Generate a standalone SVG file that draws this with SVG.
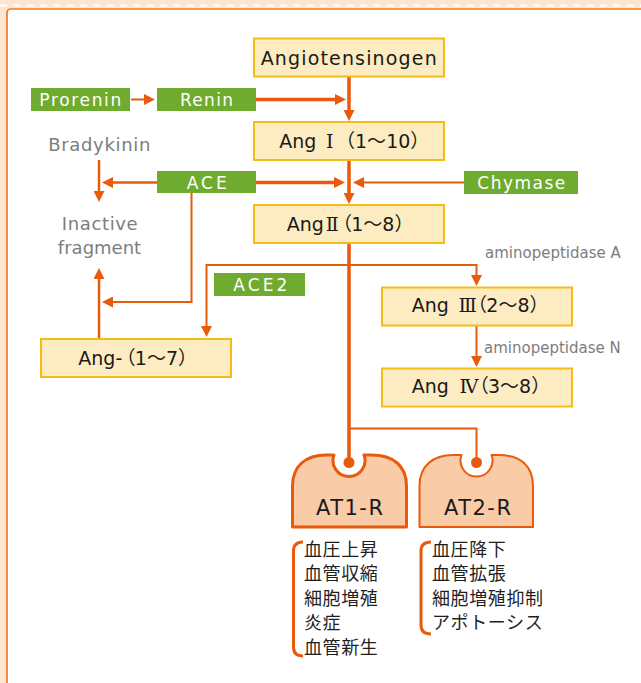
<svg xmlns="http://www.w3.org/2000/svg" width="641" height="683" viewBox="0 0 641 683">
<defs>
<style>
.t{font-family:"DejaVu Sans","Noto Sans CJK JP",sans-serif;}
.box{fill:#FDEBC1;stroke:#F5BC18;stroke-width:2;}
.g{fill:#6EAB2F;}
.gt{fill:#fff;font-size:17px;}
.bt{fill:#1a1a1a;font-size:19px;}
.num{font-family:"DejaVu Serif","Noto Sans CJK JP",serif;}
.cj{font-family:"Noto Sans CJK JP",sans-serif;}
.pa{font-family:"Noto Sans CJK JP",sans-serif;font-feature-settings:"palt";}
.gray{fill:#7d7d7d;font-size:18px;}
.small{fill:#7d7d7d;font-size:15px;}
.ln{fill:none;stroke:#E95A0C;stroke-width:2;}
.thick{stroke-width:3.5;}
.mid{stroke-width:2.5;}
.at{fill:#F9CBA7;stroke:#E95A0C;stroke-linejoin:round;}
.atx{fill:#1a1a1a;font-size:21px;}
.jp{fill:#1f1f1f;font-size:18px;letter-spacing:0.6px;font-family:"Noto Sans CJK JP",sans-serif;}
.br{fill:none;stroke:#E95A0C;stroke-width:3;}
</style>
<marker id="ah" markerUnits="userSpaceOnUse" markerWidth="11" markerHeight="11" refX="2" refY="5.5" orient="auto"><path d="M0,0 L11,5.5 L0,11 z" fill="#E95A0C"/></marker>
</defs>
<g id="frame">
<rect width="641" height="683" fill="#FDE5D0"/>
<line x1="0" y1="5.5" x2="641" y2="5.5" stroke="#fff" stroke-width="2" stroke-dasharray="7 6.33"/>
<path d="M7,683 V13 Q7,9 11,9 H641 V683 Z" fill="#fff"/>
<path d="M7,683 V13 Q7,9 11,9 H641" fill="none" stroke="#EF7B22" stroke-width="1.7"/>
</g>
<g id="connectors">
<path class="ln thick" d="M349,77 V112" marker-end="url(#ah)"/>
<path class="ln thick" d="M256,99.5 H337" marker-end="url(#ah)"/>
<path class="ln" d="M131,99.5 H146" stroke-width="1.8" marker-end="url(#ah)"/>
<path class="ln thick" d="M349,160 V195" marker-end="url(#ah)"/>
<path class="ln thick" d="M256,182.5 H336" marker-end="url(#ah)"/>
<path class="ln" d="M464,182.5 H362" marker-end="url(#ah)"/>
<path class="ln mid" d="M157,182.5 H111" marker-end="url(#ah)"/>
<path class="ln mid" d="M99,160 V193" marker-end="url(#ah)"/>
<path class="ln" d="M191.5,193 V302 H111" marker-end="url(#ah)"/>
<path class="ln mid" d="M99,339 V277" marker-end="url(#ah)"/>
<path class="ln" d="M349,265 H206.5 V328" marker-end="url(#ah)"/>
<path class="ln" d="M349,265 H476.5 V277" marker-end="url(#ah)"/>
<path class="ln" d="M476.5,326 V358" marker-end="url(#ah)"/>
<path class="ln thick" d="M349,243 V462"/>
<path class="ln" d="M349,428.5 H476.5 V462"/>
</g>
<g id="angiotensinogen"><rect class="box" x="254" y="38.5" width="190" height="38"/><text class="t bt" x="260.7" y="64.5" textLength="176" lengthAdjust="spacing">Angiotensinogen</text></g>
<g id="prorenin"><rect class="g" x="31" y="88" width="99" height="23"/><text class="t gt" x="39.3" y="106" textLength="82" lengthAdjust="spacing">Prorenin</text></g>
<g id="renin"><rect class="g" x="157" y="88" width="99" height="23"/><text class="t gt" x="180" y="106" textLength="53" lengthAdjust="spacing">Renin</text></g>
<g id="angI"><rect class="box" x="254" y="122" width="190" height="38"/><text class="t bt" x="279.3" y="147.5">Ang<tspan class="num" x="326">Ⅰ</tspan><tspan class="cj" x="336">（</tspan>1<tspan class="cj">～</tspan>10<tspan class="cj">）</tspan></text></g>
<g id="bradykinin"><text class="t gray" x="48.3" y="151" textLength="102" lengthAdjust="spacing">Bradykinin</text></g>
<g id="ace"><rect class="g" x="157" y="171" width="99" height="22"/><text class="t gt" x="186.7" y="188.5" textLength="40" lengthAdjust="spacing">ACE</text></g>
<g id="chymase"><rect class="g" x="464" y="171" width="114" height="23"/><text class="t gt" x="477.3" y="188.5" textLength="88" lengthAdjust="spacing">Chymase</text></g>
<g id="inactive"><text class="t gray" x="61.7" y="230" textLength="76" lengthAdjust="spacing">Inactive</text><text class="t gray" x="99.5" y="253.5" text-anchor="middle">fragment</text></g>
<g id="angII"><rect class="box" x="254" y="205" width="190" height="38"/><text class="t bt" x="286.7" y="230.5">Ang<tspan class="num" dx="2">Ⅱ</tspan><tspan class="pa" dx="3">（</tspan>1<tspan class="cj">～</tspan>8<tspan class="cj">）</tspan></text></g>
<g id="ace2"><rect class="g" x="214" y="273" width="91" height="23"/><text class="t gt" x="233.3" y="290.5" textLength="54" lengthAdjust="spacing">ACE2</text></g>
<g id="apa"><text class="t small" x="485" y="257.5">aminopeptidase A</text></g>
<g id="angIII"><rect class="box" x="382" y="287.5" width="190" height="38"/><text class="t bt" x="411.7" y="312">Ang <tspan class="num" x="458.5">Ⅲ</tspan><tspan class="pa">（</tspan>2<tspan class="cj">～</tspan>8<tspan class="cj">）</tspan></text></g>
<g id="apn"><text class="t small" x="484" y="353">aminopeptidase N</text></g>
<g id="angIV"><rect class="box" x="382" y="368.5" width="190" height="38"/><text class="t bt" x="411.7" y="393">Ang <tspan class="num" x="459.5">Ⅳ</tspan><tspan class="pa">（</tspan>3<tspan class="cj">～</tspan>8<tspan class="cj">）</tspan></text></g>
<g id="ang17"><rect class="box" x="41" y="339" width="190" height="38"/><text class="t bt" x="78.3" y="365">Ang-<tspan class="pa" dx="3">（</tspan>1<tspan class="cj">～</tspan>7<tspan class="cj">）</tspan></text></g>
<g id="at1r">
<path class="at" stroke-width="3" d="M292.5,527 V486 C292.5,466 305.5,455 326.5,455 H334 A16,16 0 1 0 364,455 H371.5 C393.5,455 406.5,466 406.5,486 V527 Z"/>
<circle cx="349" cy="462.5" r="5.5" fill="#E95A0C"/>
<text class="t atx" x="316" y="515" textLength="67" lengthAdjust="spacing">AT1-R</text>
</g>
<g id="at2r">
<path class="at" stroke-width="2" d="M419.5,527 V486 C419.5,466 432.5,455 453.5,455 H461.5 A16,16 0 1 0 491.5,455 H498.5 C520.5,455 533,466 533,486 V527 Z"/>
<circle cx="476.5" cy="462.5" r="5.5" fill="#E95A0C"/>
<text class="t atx" x="444" y="515" textLength="67" lengthAdjust="spacing">AT2-R</text>
</g>
<g id="at1-effects">
<path class="br" d="M303,542 Q293.5,542 293.5,551 V647 Q293.5,656 303,656"/>
<text class="jp" x="304" y="555.5">血圧上昇</text>
<text class="jp" x="304" y="580">血管収縮</text>
<text class="jp" x="304" y="604.5">細胞増殖</text>
<text class="jp" x="304" y="629">炎症</text>
<text class="jp" x="304" y="653.5">血管新生</text>
</g>
<g id="at2-effects">
<path class="br" d="M431,542 Q421,542 421,551 V625 Q421,634 431,634"/>
<text class="jp" x="432" y="555.5">血圧降下</text>
<text class="jp" x="432" y="580">血管拡張</text>
<text class="jp" x="432" y="604.5">細胞増殖抑制</text>
<text class="jp" x="432" y="629">アポトーシス</text>
</g>
</svg>
